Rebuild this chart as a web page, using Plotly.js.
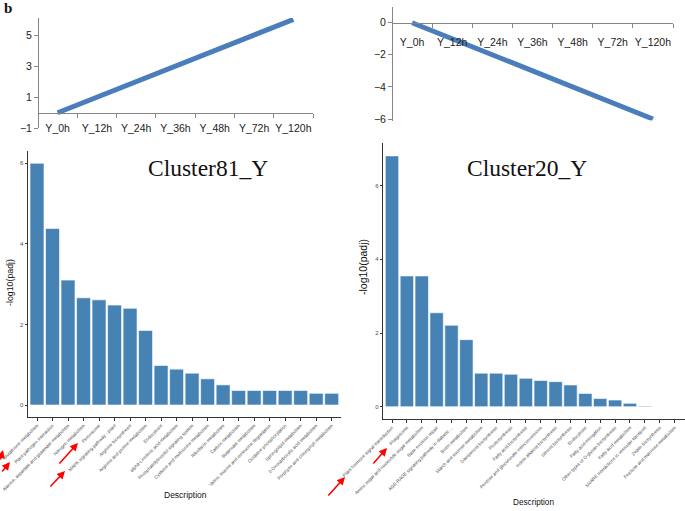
<!DOCTYPE html>
<html>
<head>
<meta charset="utf-8">
<script src="https://cdn.plot.ly/plotly-3.0.1.min.js"></script>
<style>
  html, body { margin: 0; padding: 0; background: #fff; }
  #chart { width: 685px; height: 511px; }
</style>
</head>
<body>
<div id="chart"></div>
<script>
// expression profiles of the two clusters
const timePoints = ['Y_0h', 'Y_12h', 'Y_24h', 'Y_36h', 'Y_48h', 'Y_72h', 'Y_120h'];
const profile81 = [0, 1, 2, 3, 4, 5, 6];
const profile20 = [0, -1, -2, -3, -4, -5, -6];

// KEGG enrichment, Cluster81_Y
const terms81 = [
  'Glutathione metabolism', 'Plant-pathogen interaction',
  'Alanine, aspartate and glutamate metabolism', 'Nitrogen metabolism',
  'Peroxisome', 'MAPK signaling pathway - plant', 'Arginine biosynthesis',
  'Arginine and proline metabolism', 'Endocytosis', 'alpha-Linolenic acid metabolism',
  'Phosphatidylinositol signaling system', 'Cysteine and methionine metabolism',
  'Riboflavin metabolism', 'Carbon metabolism', 'Butanoate metabolism',
  'Valine, leucine and isoleucine degradation', 'Oxidative phosphorylation',
  'Sphingolipid metabolism', '2-Oxocarboxylic acid metabolism',
  'Porphyrin and chlorophyll metabolism'
];
const padj81 = [6.0, 4.38, 3.10, 2.66, 2.61, 2.48, 2.40, 1.85, 0.98, 0.89,
                0.79, 0.65, 0.50, 0.36, 0.36, 0.36, 0.36, 0.36, 0.29, 0.29];

// KEGG enrichment, Cluster20_Y
const terms20 = [
  'Plant hormone signal transduction', 'Phagosome',
  'Amino sugar and nucleotide sugar metabolism', 'Base excision repair',
  'AGE-RAGE signaling pathway in diabetic ...', 'Biotin metabolism',
  'Starch and sucrose metabolism', 'Diterpenoid biosynthesis', 'Photosynthesis',
  'Fatty acid biosynthesis', 'Pentose and glucuronate interconversions',
  'Indole alkaloid biosynthesis', 'Steroid biosynthesis', 'Endocytosis',
  'Fatty acid elongation', 'Other types of O-glycan biosynthesis',
  'Fatty acid metabolism', 'SNARE interactions in vesicular transport',
  'Zeatin biosynthesis', 'Fructose and mannose metabolism'
];
const padj20 = [6.81, 3.55, 3.55, 2.55, 2.21, 1.82, 0.91, 0.91, 0.88, 0.77,
                0.71, 0.68, 0.59, 0.36, 0.22, 0.18, 0.09, 0.02, 0, 0];

const W = 685, H = 511;
const fx = p => p / W;        // pixel -> paper x
const fy = p => 1 - p / H;    // pixel -> paper y

// where y = 0 falls inside a y domain
function zeroPos(dom, rng) {
  return dom[0] + (0 - rng[0]) / (rng[1] - rng[0]) * (dom[1] - dom[0]);
}

const sans = 'Arial, Liberation Sans, sans-serif';
const serif = 'Times New Roman, Liberation Serif, serif';
const lineBlue = '#4A7EBB';
const barBlue = '#4682B4';
const excelGrey = '#868686';

const yDom1 = [fy(128.3), fy(17.9)], yRange1 = [-1, 6.1];
const yDom2 = [fy(120.6), fy(6.65)], yRange2 = [-6.1, 1];

const data = [
  { x: timePoints, y: profile81, type: 'scatter', mode: 'lines',
    line: { color: lineBlue, width: 5 }, xaxis: 'x', yaxis: 'y', hoverinfo: 'skip' },
  { x: timePoints, y: profile20, type: 'scatter', mode: 'lines',
    line: { color: lineBlue, width: 5 }, xaxis: 'x2', yaxis: 'y2', hoverinfo: 'skip' },
  { x: terms81, y: padj81, type: 'bar', xaxis: 'x3', yaxis: 'y3',
    marker: { color: barBlue, line: { color: '#fff', width: 0.6 } } },
  { x: terms20, y: padj20, type: 'bar', xaxis: 'x4', yaxis: 'y4',
    marker: { color: barBlue, line: { color: '#fff', width: 0.6 } } }
];

function lineX(dom, yDom, yRange, standoff) {
  return {
    domain: dom, anchor: 'free', position: zeroPos(yDom, yRange),
    type: 'category', range: [-0.5, 6.5], tickangle: 0,
    showline: true, linecolor: excelGrey, linewidth: 1,
    ticks: 'outside', tickson: 'boundaries', ticklen: 4, tickcolor: excelGrey,
    tickfont: { family: sans, size: 10.5, color: '#222' },
    ticklabelstandoff: standoff, showgrid: false, zeroline: false
  };
}
function lineY(dom, rng, vals, xpos) {
  return {
    domain: dom, range: rng, anchor: 'free', position: xpos,
    tickvals: vals, showline: true, linecolor: excelGrey, linewidth: 1,
    ticks: 'outside', ticklen: 4, tickcolor: excelGrey,
    tickfont: { family: sans, size: 10.5, color: '#222' },
    showgrid: false, zeroline: false
  };
}
function barX(dom, yName, rng) {
  return {
    domain: dom, anchor: yName, type: 'category', range: rng,
    showline: true, linecolor: '#333', linewidth: 1,
    ticks: 'outside', ticklen: 3, tickcolor: '#333', tickangle: -45,
    tickfont: { family: sans, size: 4.6, color: '#4d4d4d' },
    showgrid: false, zeroline: false
  };
}
function barY(dom, xName, rng) {
  return {
    domain: dom, anchor: xName, range: rng, tickvals: [0, 2, 4, 6],
    showline: true, linecolor: '#333', linewidth: 1,
    ticks: 'outside', ticklen: 2.5, tickcolor: '#333',
    tickfont: { family: sans, size: 6, color: '#4d4d4d' },
    showgrid: false, zeroline: false
  };
}

function arrow(tipX, tipY, tailX, tailY) {
  return {
    x: fx(tipX), y: fy(tipY), xref: 'paper', yref: 'paper',
    ax: tailX - tipX, ay: tailY - tipY, text: '', showarrow: true,
    arrowhead: 2, arrowsize: 1, arrowwidth: 1.6, arrowcolor: '#ff0000'
  };
}
function label(text, x, y, size, family, extra) {
  return Object.assign({
    text: text, x: fx(x), y: fy(y), xref: 'paper', yref: 'paper',
    showarrow: false, xanchor: 'center', yanchor: 'middle',
    font: { family: family, size: size, color: '#111' }
  }, extra || {});
}

const layout = {
  width: W, height: H,
  margin: { l: 0, r: 0, t: 0, b: 0 },
  paper_bgcolor: '#fff', plot_bgcolor: 'rgba(0,0,0,0)',
  showlegend: false, bargap: 0.1,
  xaxis: lineX([fx(38), fx(313)], yDom1, yRange1, 6),
  yaxis: lineY(yDom1, yRange1, [-1, 1, 3, 5], fx(38)),
  xaxis2: lineX([fx(392), fx(673)], yDom2, yRange2, 10),
  yaxis2: lineY(yDom2, yRange2, [-6, -4, -2, 0], fx(392)),
  xaxis3: barX([fx(28), fx(341)], 'y3', [-0.58, 19.6]),
  yaxis3: barY([fy(417.1), fy(151.2)], 'x3', [-0.3, 6.3]),
  xaxis4: barX([fx(383.3), 1], 'y4', [-0.585, 19.7]),
  yaxis4: barY([fy(419.2), fy(143.4)], 'x4', [-0.34, 7.15]),
  annotations: [
    label('<b>b</b>', 8, 8, 15, serif),
    label('Cluster81_Y', 208, 168, 23.5, serif),
    label('Cluster20_Y', 527, 168, 23.5, serif),
    label('-log10(padj)', 10, 283, 8.8, sans, { textangle: -90 }),
    label('-log10(padj)', 363, 267, 10.5, sans, { textangle: -90 }),
    label('Description', 185, 495, 8.5, sans),
    label('Description', 533, 502, 8.2, sans),
    arrow(3, 450, -8, 461),
    arrow(10, 462, 1, 473),
    arrow(78, 443, 58, 465),
    arrow(65, 471, 49, 488),
    arrow(345, 477, 327, 497),
    arrow(387, 448, 372, 465)
  ]
};

Plotly.newPlot('chart', data, layout, { staticPlot: true });
</script>
</body>
</html>
